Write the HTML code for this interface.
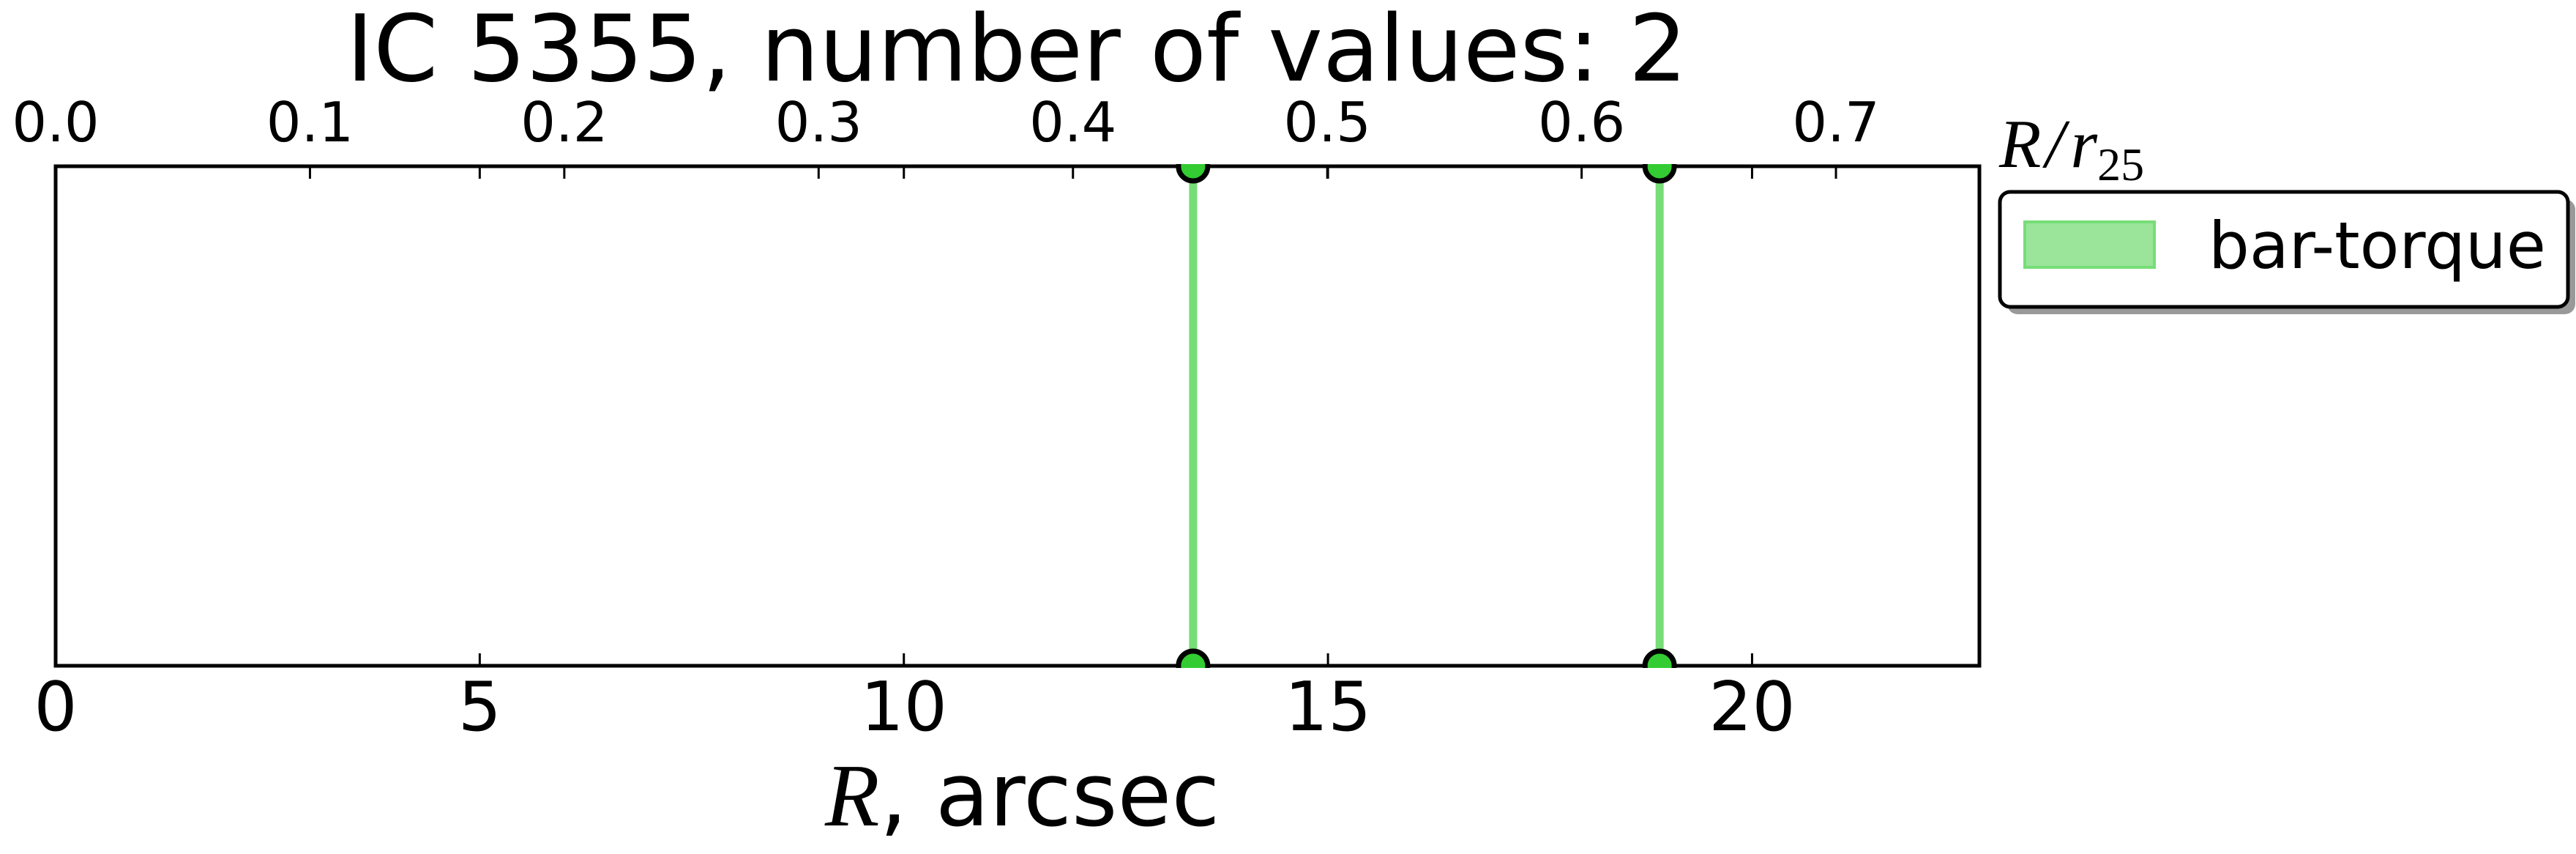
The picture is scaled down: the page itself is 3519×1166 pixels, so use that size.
<!DOCTYPE html>
<html><head><meta charset="utf-8"><style>
html,body{margin:0;padding:0;background:#fff;}
svg{display:block;}
</style></head><body>
<svg id="chart" width="3519" height="1166" viewBox="0 0 3519 1166" xmlns="http://www.w3.org/2000/svg" font-family="'DejaVu Sans','Liberation Sans',sans-serif">
<defs><clipPath id="cp"><rect x="0" y="224" width="3519" height="688"/></clipPath></defs>
<rect x="0" y="0" width="3519" height="1166" fill="#fff"/>
<text x="1389" y="110" font-size="126" text-anchor="middle">IC 5355, number of values: 2</text>
<g id="axes"></g>
<g id="marks" clip-path="url(#cp)"></g>
<text x="2731" y="228" font-family="'Liberation Serif','DejaVu Serif',serif" font-style="italic" font-size="94">R<tspan dx="6">/</tspan><tspan dx="8">r</tspan><tspan font-style="normal" font-size="64" dy="18">25</tspan></text>
<text x="1127" y="1127" font-size="120"><tspan font-family="'Liberation Serif','DejaVu Serif',serif" font-style="italic" font-size="122">R</tspan>, arcsec</text>
<g>
<rect x="2742" y="272" width="776" height="157" rx="14" fill="#999"/>
<rect x="2732" y="262" width="776" height="157" rx="14" fill="#fff" stroke="#000" stroke-width="5"/>
<rect x="2766" y="303" width="177" height="62" fill="#9ae59a" stroke="#77dd77" stroke-width="4"/>
<text x="3017" y="366" font-size="88">bar-torque</text>
</g>
</svg>
<script>
const xTicks = [0, 5, 10, 15, 20];
const topTicks = [0.0, 0.1, 0.2, 0.3, 0.4, 0.5, 0.6, 0.7];
const topTickLabels = ["0.0","0.1","0.2","0.3","0.4","0.5","0.6","0.7"];
const barRadii = [13.41, 18.91];
const seriesName = "bar-torque";

const L = 76, R = 2704, T = 227, B = 909;
const xMax = 22.68, topMax = 0.7564;
function xs(v){ return L + v/xMax*(R-L); }
function xt(v){ return L + v/topMax*(R-L); }
const NS = "http://www.w3.org/2000/svg";
const ga = document.getElementById('axes');
const gm = document.getElementById('marks');
function mk(g, tag, attrs){ const e=document.createElementNS(NS,tag); for(const k in attrs) e.setAttribute(k, attrs[k]); g.appendChild(e); return e; }

xTicks.forEach(v=>{
  const x = xs(v);
  const t1 = mk(ga,'line',{x1:x,x2:x,y1:B,y2:B-17,stroke:'#000','stroke-width':3});
  
  
  const t2 = mk(ga,'line',{x1:x,x2:x,y1:T,y2:T+17,stroke:'#000','stroke-width':3});
  
  
  const lb = mk(ga,'text',{x:x,y:997,'font-size':93,'text-anchor':'middle'});
  lb.textContent = String(v);
  
  
});
topTicks.forEach((v,i)=>{
  const x = xt(v);
  const t = mk(ga,'line',{x1:x,x2:x,y1:T,y2:T+17,stroke:'#000','stroke-width':3});
  
  
  const lb = mk(ga,'text',{x:x,y:193,'font-size':75,'text-anchor':'middle'});
  lb.textContent = topTickLabels[i];
  
  
});
barRadii.forEach(v=>{
  const x = xs(v);
  const ln = mk(gm,'line',{x1:x,x2:x,y1:T,y2:B,stroke:'#77dd77','stroke-width':11});
  
  
});
const frame = mk(gm,'rect',{x:L,y:T,width:R-L,height:B-T,fill:'none',stroke:'#000','stroke-width':5});


barRadii.forEach(v=>{
  const x = xs(v);
  [T,B].forEach(y=>{
    const c = mk(gm,'circle',{cx:x,cy:y,r:20,fill:'#33cc33',stroke:'#000','stroke-width':7});
    
    
  });
});
</script>
</body></html>
